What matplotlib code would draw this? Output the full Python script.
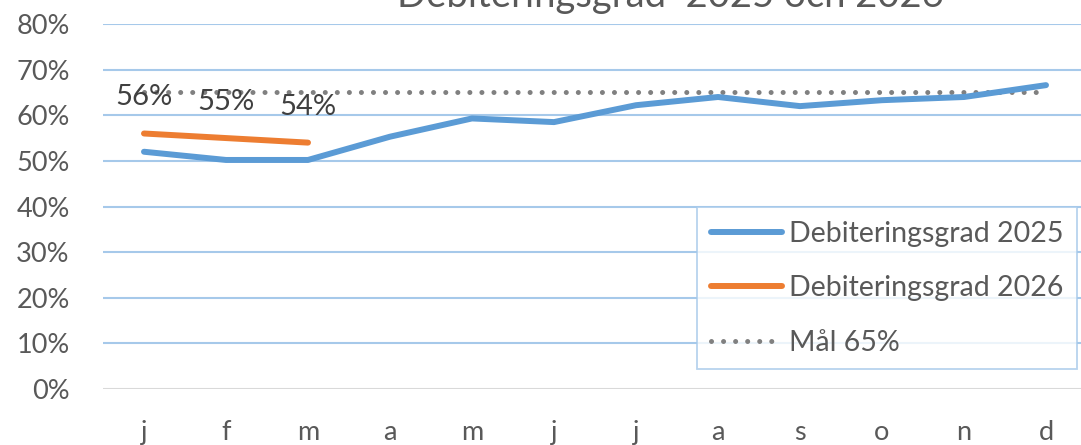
import matplotlib
matplotlib.use("Agg")
import matplotlib.pyplot as plt
from matplotlib.ticker import FuncFormatter

plt.rcParams['font.family'] = ['Lato', 'DejaVu Sans']

months = ['j', 'f', 'm', 'a', 'm', 'j', 'j', 'a', 's', 'o', 'n', 'd']
grad_2025 = [52.0, 50.2, 50.2, 55.3, 59.3, 58.5, 62.2, 64.0, 62.0, 63.3, 64.0, 66.6]
grad_2026 = [56.0, 55.0, 54.0]
labels_2026 = ['56%', '55%', '54%']
goal = [65.0] * 12
yticks = [0, 10, 20, 30, 40, 50, 60, 70, 80]

W, H = 1081, 445
fig = plt.figure(figsize=(W / 100, H / 100), dpi=100)
left, right, top, bottom = 103, 1087, 24, 389
ax = fig.add_axes([left / W, 1 - bottom / H, (right - left) / W, (bottom - top) / H])

x = list(range(len(months)))
ax.plot(x, grad_2025, color='#5B9BD5', lw=4.3, solid_capstyle='round',
        label='Debiteringsgrad 2025', zorder=3)
ax.plot(x[:len(grad_2026)], grad_2026, color='#ED7D31', lw=4.3, solid_capstyle='round',
        label='Debiteringsgrad 2026', zorder=4)
ax.plot(x, goal, color='#808080', lw=3.6, linestyle=(0, (0.01, 2.4)),
        dash_capstyle='round', label='Mål 65%', zorder=2)

for xi, yi, lab in zip(x, grad_2026, labels_2026):
    ax.annotate(lab, (xi, yi), xytext=(0, 26), textcoords='offset points',
                ha='center', va='center', fontsize=21, color='#404040', zorder=5)

ax.set_xlim(-0.5, len(months) - 0.5)
ax.set_ylim(0, 80)
ax.set_yticks(yticks)
ax.yaxis.set_major_formatter(FuncFormatter(lambda v, p: f"{int(v)}%"))
ax.set_xticks(x)
ax.set_xticklabels(months)
ax.tick_params(axis='both', length=0, labelsize=19.5, labelcolor='#595959')
ax.tick_params(axis='y', pad=24)
ax.tick_params(axis='x', pad=22.5)

for s in ax.spines.values():
    s.set_visible(False)
for v in yticks:
    ax.axhline(v, color='#D9D9D9' if v == 0 else '#A6C9EA', lw=1.5, zorder=1)

fig.text(670 / W, 1 - 7 / H, 'Debiteringsgrad  2025 och 2026', ha='center', va='baseline',
         fontsize=27.5, color='#595959')

leg = ax.legend(loc='upper left', bbox_to_anchor=(697 / W, 1 - 207 / H),
                bbox_transform=fig.transFigure, borderaxespad=0, fontsize=20.5,
                handlelength=2.5, handletextpad=0.25, labelspacing=1.0,
                borderpad=0.48, fancybox=False, frameon=True)
leg.get_frame().set_edgecolor('#A6C9EA')
leg.get_frame().set_linewidth(1.3)
for t in leg.get_texts():
    t.set_color('#595959')

fig.savefig('out.png', dpi=100)
